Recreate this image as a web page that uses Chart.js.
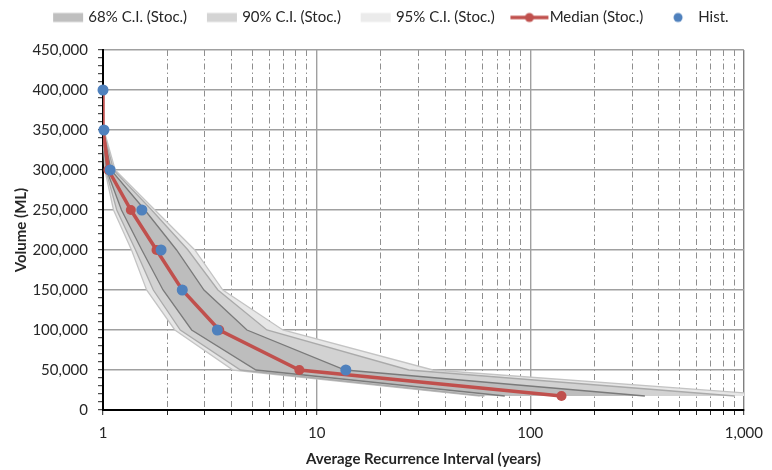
<!DOCTYPE html>
<html>
<head>
<meta charset="utf-8">
<script src="https://cdn.jsdelivr.net/npm/chart.js@4.4.1/dist/chart.umd.min.js"></script>
<style>
  html, body { margin: 0; padding: 0; background: #fff; }
</style>
</head>
<body>
<canvas id="chart" width="772" height="470"></canvas>
<script>
// volume levels (ML) where the stochastic curves are evaluated
let volumes = [400000, 350000, 300000, 250000, 200000, 150000, 100000, 50000, 17500];

// average recurrence interval (years) at each volume level
let ci68Low = [1, 1, 1.04, 1.22, 1.52, 1.91, 2.6, 5.2, 76];
let ci68High = [1, 1, 1.09, 1.57, 2.21, 2.97, 4.72, 13.6, 344];
let ci90Low = [1, 1, 1.03, 1.16, 1.42, 1.72, 2.3, 4.4, 61];
let ci90High = [1, 1, 1.12, 1.69, 2.5, 3.45, 5.85, 27, 907];
let ci95Low = [1, 1, 1.02, 1.12, 1.36, 1.6, 2.17, 4.06, 58];
let ci95High = [1, 1.01, 1.14, 1.75, 2.69, 3.64, 6.95, 35, 1570];

// median curve
let medianVolumes = [400000, 350000, 300000, 250000, 200000, 150000, 100000, 50000, 17500];
let medianAri = [1, 1, 1.06, 1.35, 1.78, 2.35, 3.5, 8.3, 140];

// historical points
let histVolumes = [400000, 350000, 300000, 250000, 200000, 150000, 100000, 50000];
let histAri = [1, 1.01, 1.08, 1.52, 1.87, 2.35, 3.43, 13.7];

// axis ticks
let xTickValues = [1, 2, 3, 4, 5, 6, 7, 8, 9, 10, 20, 30, 40, 50, 60, 70, 80, 90,
    100, 200, 300, 400, 500, 600, 700, 800, 900, 1000];
let xMajorTicks = [1, 10, 100, 1000];
let xTickLabels = ["1", "10", "100", "1,000"];
let yLabelStep = 50000;

const red = "#C0504D";
const blue = "#4F81BD";
const font = "Lato";
const textColor = "#262626";

// outline of a band: up the upper edge from the bottom, then down the lower edge.
// the fill closes the bottom by itself, so that edge is not stroked
function bandPoints(low, high) {
    let pts = [];
    for (let i = volumes.length - 1; i >= 0; i--) pts.push({ x: high[i], y: volumes[i] });
    for (let i = 0; i < volumes.length; i++) pts.push({ x: low[i], y: volumes[i] });
    return pts;
}

function curvePoints(xs, ys) {
    return xs.map((x, i) => ({ x: x, y: ys[i] }));
}

function band(label, low, high, fillColor, edgeColor, order) {
    return {
        label: label,
        data: bandPoints(low, high),
        showLine: true,
        fill: "shape",
        backgroundColor: fillColor,
        borderColor: edgeColor,
        borderWidth: 1.3,
        pointRadius: 0,
        order: order
    };
}

// legend icons, drawn with a transparent margin so the spacing matches
function legendIcon(draw) {
    const c = document.createElement("canvas");
    c.width = 60;
    c.height = 16;
    draw(c.getContext("2d"));
    return c;
}
const boxIcon = (color) => legendIcon((g) => {
    g.fillStyle = color;
    g.fillRect(21, 3.5, 30, 9);
});
const medianIcon = legendIcon((g) => {
    g.strokeStyle = red;
    g.lineWidth = 3.5;
    g.beginPath();
    g.moveTo(17, 8);
    g.lineTo(55, 8);
    g.stroke();
    g.fillStyle = red;
    g.beginPath();
    g.arc(36, 8, 4.5, 0, Math.PI * 2);
    g.fill();
});
const histIcon = legendIcon((g) => {
    g.fillStyle = blue;
    g.beginPath();
    g.arc(36, 8, 4.5, 0, Math.PI * 2);
    g.fill();
});
let legendItems = [
    { text: "68% C.I. (Stoc.)", pointStyle: boxIcon("#bfbfbf"), datasetIndex: 0 },
    { text: "90% C.I. (Stoc.)", pointStyle: boxIcon("#d4d4d4"), datasetIndex: 1 },
    { text: "95% C.I. (Stoc.)", pointStyle: boxIcon("#ebebeb"), datasetIndex: 2 },
    { text: "Median (Stoc.)", pointStyle: medianIcon, datasetIndex: 3 },
    { text: "Hist.", pointStyle: histIcon, datasetIndex: 4 }
];

const chart = new Chart(document.getElementById("chart"), {
    type: "scatter",
    data: {
        datasets: [
            band("68% C.I. (Stoc.)", ci68Low, ci68High, "#bdbdbd", "#7a7a7a", 2),
            band("90% C.I. (Stoc.)", ci90Low, ci90High, "#d2d2d2", "#aaaaaa", 3),
            band("95% C.I. (Stoc.)", ci95Low, ci95High, "#e7e7e7", "#c4c4c4", 4),
            {
                label: "Median (Stoc.)",
                data: curvePoints(medianAri, medianVolumes),
                showLine: true,
                borderColor: red,
                backgroundColor: red,
                borderWidth: 3.5,
                pointRadius: 5,
                pointBorderWidth: 0,
                clip: { left: 0, top: false, right: false, bottom: false },
                order: 1
            },
            {
                label: "Hist.",
                data: curvePoints(histAri, histVolumes),
                showLine: false,
                backgroundColor: blue,
                borderColor: blue,
                pointRadius: 5.5,
                pointBorderWidth: 0,
                clip: false,
                order: 0
            }
        ]
    },
    options: {
        responsive: false,
        animation: false,
        layout: { padding: 0 },
        plugins: {
            tooltip: { enabled: false },
            legend: {
                position: "top",
                align: "center",
                labels: {
                    usePointStyle: true,
                    pointStyleWidth: 37.5,
                    padding: 10,
                    color: textColor,
                    font: { family: font, size: 15 },
                    generateLabels: () => legendItems.map((it) => ({
                        text: it.text,
                        pointStyle: it.pointStyle,
                        datasetIndex: it.datasetIndex,
                        fontColor: textColor,
                        lineWidth: 0,
                        hidden: false
                    }))
                }
            }
        },
        scales: {
            x: {
                type: "logarithmic",
                min: 1,
                max: 1000,
                afterBuildTicks: (scale) => {
                    scale.ticks = xTickValues.map((v) => ({ value: v, major: xMajorTicks.includes(v) }));
                },
                afterFit: (scale) => { scale.height = 60; },
                ticks: {
                    autoSkip: false,
                    maxRotation: 0,
                    padding: 9,
                    color: textColor,
                    font: { family: font, size: 15 },
                    callback: (value) => {
                        let i = xMajorTicks.indexOf(value);
                        return i >= 0 ? xTickLabels[i] : "";
                    }
                },
                grid: {
                    color: (ctx) => {
                        let v = ctx.tick ? ctx.tick.value : 0;
                        if (v === 1000) return "#808080";
                        return xMajorTicks.includes(v) ? "#a0a0a0" : "#8f8f8f";
                    },
                    lineWidth: (ctx) => {
                        let v = ctx.tick ? ctx.tick.value : 0;
                        return xMajorTicks.includes(v) ? 1.4 : 1;
                    },
                    tickColor: textColor,
                    tickLength: 5,
                    tickWidth: 1
                },
                border: {
                    color: "#000",
                    width: 2,
                    dash: (ctx) => {
                        if (!ctx.tick) return [];
                        return xMajorTicks.includes(ctx.tick.value) ? [] : [6, 3, 1.5, 3];
                    }
                },
                title: {
                    display: true,
                    text: "Average Recurrence Interval (years)",
                    color: textColor,
                    font: { family: font, size: 15, weight: "bold" },
                    padding: { top: 0, bottom: 2 }
                }
            },
            xTop: {
                type: "linear",
                position: "top",
                display: true,
                ticks: { display: false },
                grid: { display: false, drawTicks: false },
                border: { display: false },
                afterFit: (scale) => { scale.height = 15; }
            },
            y: {
                type: "linear",
                min: 0,
                max: 450000,
                afterFit: (scale) => { scale.width = 103; },
                ticks: {
                    stepSize: 10000,
                    autoSkip: false,
                    padding: 10,
                    color: textColor,
                    font: { family: font, size: 15 },
                    callback: (value) => value % yLabelStep === 0 ? value.toLocaleString("en-US") : ""
                },
                grid: {
                    color: (ctx) => ctx.tick && ctx.tick.value % yLabelStep === 0 ? "#a0a0a0" : "rgba(0,0,0,0)",
                    lineWidth: 1.4,
                    tickColor: textColor,
                    tickLength: 5,
                    tickWidth: 1
                },
                border: { color: "#000", width: 2 },
                title: {
                    display: true,
                    text: "Volume (ML)",
                    color: textColor,
                    font: { family: font, size: 15, weight: "bold" },
                    padding: { top: 12, bottom: 0 }
                }
            },
            yRight: {
                type: "linear",
                position: "right",
                display: true,
                ticks: { display: false },
                grid: { display: false, drawTicks: false },
                border: { display: false },
                afterFit: (scale) => { scale.width = 28; }
            }
        }
    }
});
</script>
</body>
</html>
